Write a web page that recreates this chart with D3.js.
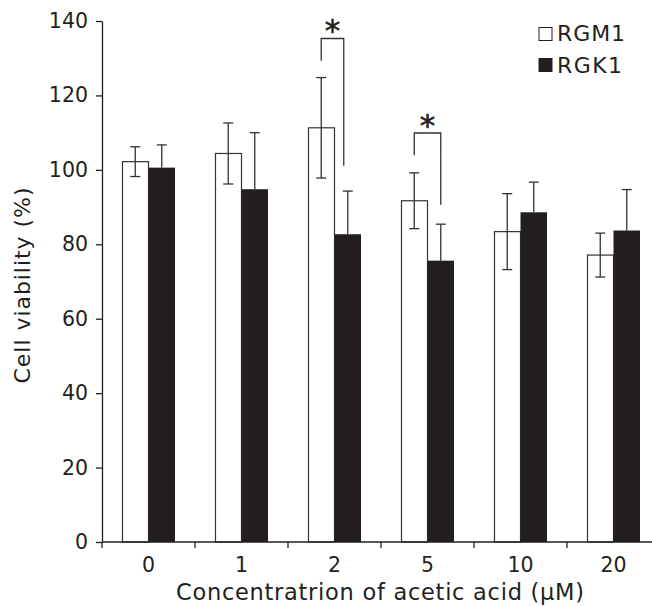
<!DOCTYPE html>
<html>
<head>
<meta charset="utf-8">
<script src="https://cdn.jsdelivr.net/npm/d3@7"></script>
<style>
  html, body { margin: 0; padding: 0; background: #fff; }
  svg { display: block; font-family: "DejaVu Sans", Verdana, sans-serif; }
</style>
</head>
<body>
<svg id="chart" width="652" height="606"></svg>
<script>
// ---- data ----
const categories = ["0", "1", "2", "5", "10", "20"];
const seriesNames = ["RGM1", "RGK1"];
const rgm1 = [102.2, 104.4, 111.3, 91.7, 83.4, 77.1];
const rgm1Err = [4.0, 8.2, 13.5, 7.5, 10.2, 5.9];
const rgk1 = [100.6, 94.8, 82.7, 75.6, 88.6, 83.7];
const rgk1Err = [6.1, 15.2, 11.6, 9.8, 8.1, 11.0];
const yTicks = [0, 20, 40, 60, 80, 100, 120, 140];
// significance brackets: category, bracket top, left drop end, right drop end
const sigCats = ["2", "5"];
const sigTop = [135.3, 109.9];
const sigLeft = [129.3, 103.9];
const sigRight = [101.1, 90.6];

const ink = "#231f20";
const svg = d3.select("#chart");

const y = d3.scaleLinear().domain([0, 140]).range([542, 21]);
const x = d3.scaleBand().domain(categories).range([102, 660])
  .paddingInner(0.43).paddingOuter(0.215);
const xs = d3.scaleBand().domain(seriesNames).range([0, x.bandwidth()]);

const rows = categories.map((c, i) => ({
  c,
  vals: [
    { s: "RGM1", v: rgm1[i], e: rgm1Err[i] },
    { s: "RGK1", v: rgk1[i], e: rgk1Err[i] }
  ]
}));

// bars
const g = svg.append("g");
rows.forEach(r => {
  r.vals.forEach(d => {
    g.append("rect")
      .attr("x", x(r.c) + xs(d.s) + (d.s === "RGM1" ? 0.5 : 0))
      .attr("y", y(d.v))
      .attr("width", xs.bandwidth() - (d.s === "RGM1" ? 0.5 : 0))
      .attr("height", y(0) - y(d.v))
      .attr("fill", d.s === "RGM1" ? "#fff" : ink)
      .attr("stroke", d.s === "RGM1" ? "#333" : "none")
      .attr("stroke-width", 1.2);
  });
});

// error bars
const cap = 5;
rows.forEach(r => {
  r.vals.forEach(d => {
    const cx = x(r.c) + xs(d.s) + xs.bandwidth() / 2;
    const lo = d.s === "RGM1" ? d.v - d.e : d.v;
    const hi = d.v + d.e;
    g.append("line").attr("x1", cx).attr("x2", cx)
      .attr("y1", y(lo)).attr("y2", y(hi))
      .attr("stroke", "#333").attr("stroke-width", 1.3);
    g.append("line").attr("x1", cx - cap).attr("x2", cx + cap)
      .attr("y1", y(hi)).attr("y2", y(hi))
      .attr("stroke", "#333").attr("stroke-width", 1.3);
    if (d.s === "RGM1") {
      g.append("line").attr("x1", cx - cap).attr("x2", cx + cap)
        .attr("y1", y(lo)).attr("y2", y(lo))
        .attr("stroke", "#333").attr("stroke-width", 1.3);
    }
  });
});

// significance brackets
sigCats.forEach((c, i) => {
  const xl = x(c) + xs("RGM1") + xs.bandwidth() / 2;
  const xr = x(c) + xs("RGK1") + xs.bandwidth() / 2 - (c === "2" ? 4 : 0);
  g.append("path")
    .attr("d", `M${xl},${y(sigLeft[i])}V${y(sigTop[i])}H${xr}V${y(sigRight[i])}`)
    .attr("fill", "none").attr("stroke", "#333").attr("stroke-width", 1.3);
  g.append("text")
    .attr("x", (xl + xr) / 2).attr("y", y(sigTop[i]) + 3)
    .attr("text-anchor", "middle")
    .attr("font-size", 31).attr("fill", ink)
    .attr("stroke", ink).attr("stroke-width", 0.6)
    .text("*");
});

// y axis
const yAxis = svg.append("g")
  .attr("transform", `translate(102,0)`)
  .call(d3.axisLeft(y).tickValues(yTicks).tickSize(6).tickPadding(8).tickSizeOuter(0));
yAxis.select(".domain").attr("stroke", ink).attr("stroke-width", 1.3);
yAxis.selectAll(".tick line").attr("stroke", ink).attr("stroke-width", 1.3);
yAxis.selectAll(".tick text").attr("font-size", 20.5).attr("fill", ink)
  .attr("font-family", "DejaVu Sans, sans-serif");

// x axis
const xAxis = svg.append("g")
  .attr("transform", `translate(0,${y(0)})`)
  .call(d3.axisBottom(x).tickSize(0).tickPadding(15));
xAxis.select(".domain").remove();
svg.append("line").attr("x1", 102).attr("x2", 652)
  .attr("y1", y(0)).attr("y2", y(0))
  .attr("stroke", ink).attr("stroke-width", 1.3);
xAxis.selectAll(".tick text").attr("font-size", 20.5).attr("fill", ink)
  .attr("font-family", "DejaVu Sans, sans-serif");
// boundary ticks
categories.forEach(c => {
  const bx = x(c) - x.step() * x.paddingInner() / 2;
  svg.append("line").attr("x1", bx).attr("x2", bx)
    .attr("y1", y(0)).attr("y2", y(0) + 6)
    .attr("stroke", ink).attr("stroke-width", 1.3);
});

// axis titles
svg.append("text")
  .attr("transform", `translate(30,${(y(0) + y(140)) / 2 + 4}) rotate(-90)`)
  .attr("text-anchor", "middle").attr("font-size", 22).attr("fill", ink)
  .attr("textLength", 196).attr("lengthAdjust", "spacing")
  .text("Cell viability (%)");
svg.append("text")
  .attr("x", 380).attr("y", 600)
  .attr("text-anchor", "middle").attr("font-size", 22.5).attr("fill", ink)
  .attr("textLength", 408).attr("lengthAdjust", "spacing")
  .text("Concentratrion of acetic acid (μM)");

// legend
const leg = svg.append("g");
const legLen = [68, 65];
seriesNames.forEach((s, i) => {
  leg.append("rect")
    .attr("x", 539).attr("y", 27.5 + i * 31)
    .attr("width", 13).attr("height", 13)
    .attr("fill", s === "RGM1" ? "#fff" : ink)
    .attr("stroke", ink).attr("stroke-width", 1);
  leg.append("text")
    .attr("x", 557).attr("y", 41 + i * 32)
    .attr("font-size", 22).attr("fill", ink)
    .attr("textLength", legLen[i]).attr("lengthAdjust", "spacing")
    .text(s);
});
</script>
</body>
</html>
